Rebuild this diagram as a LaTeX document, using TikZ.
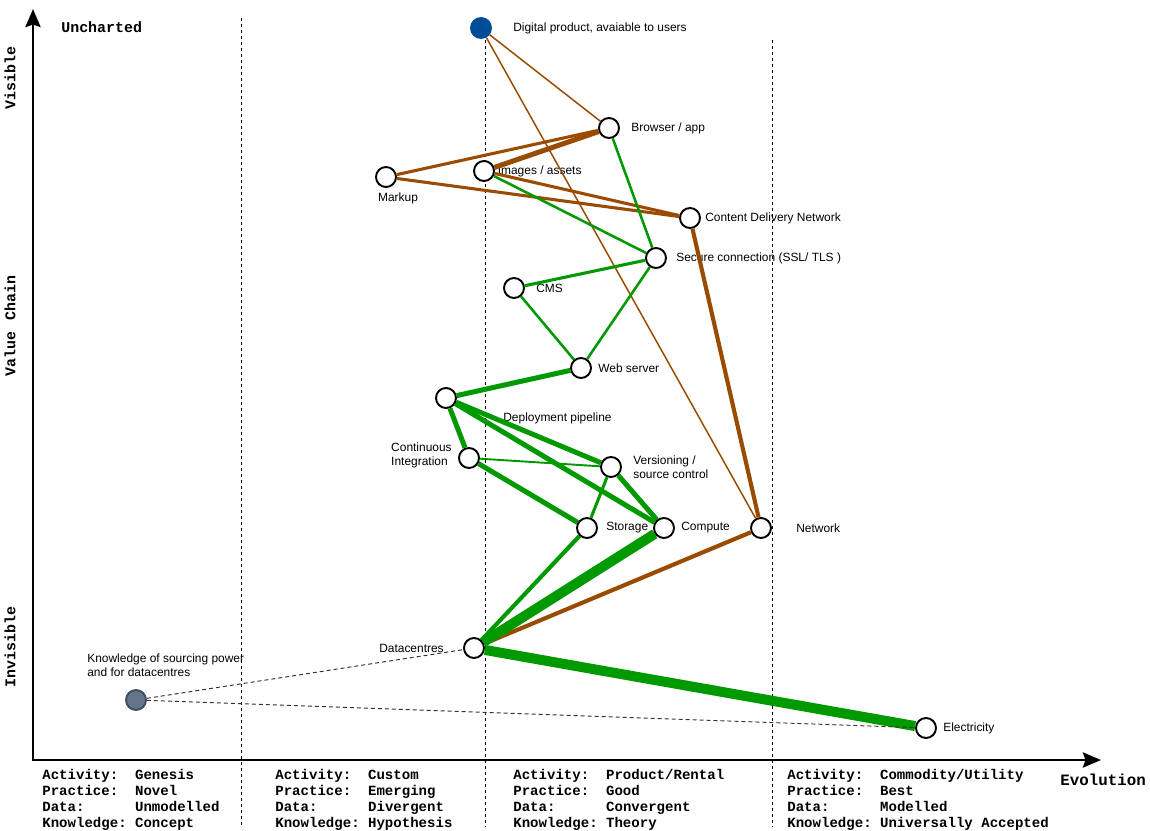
\documentclass[tikz,border=0pt]{standalone}
\usepackage{fontspec}
\setmainfont{Liberation Sans}
\setmonofont{Liberation Mono}
\usepackage{xcolor}
\usetikzlibrary{arrows.meta}
\usetikzlibrary{positioning}

\definecolor{linkbrown}{RGB}{153,76,0}
\definecolor{linkgreen}{RGB}{0,153,0}
\definecolor{userblue}{RGB}{0,76,153}
\definecolor{knowfill}{RGB}{100,117,135}
\definecolor{knowdraw}{RGB}{64,80,97}

\newcommand{\stagecol}[4]{%
  \begin{tabular}{@{}l@{\ }l@{}}
    Activity: & #1\\
    Practice: & #2\\
    Data: & #3\\
    Knowledge: & #4
  \end{tabular}}

\begin{document}
\begin{tikzpicture}[%
        x=0.02cm, y=-0.02cm,
        comp/.style={circle, draw, fill=white, line width=1.1pt, minimum size=0.4cm, inner sep=0pt},
        txt/.style={inner sep=0pt, align=left, font=\fontsize{6.8}{8}\selectfont},
        axislabel/.style={inner sep=0pt, font=\ttfamily\bfseries\fontsize{8.5}{10}\selectfont},
        stagetext/.style={inner sep=0pt, anchor=north west, font=\ttfamily\bfseries\fontsize{8}{9.07}\selectfont},
        stageline/.style={line width=0.5pt, dash pattern=on 0.06cm off 0.06cm},
        knowline/.style={black!80, line width=0.55pt, dash pattern=on 0.08cm off 0.06cm},
        axistip/.style={Stealth[length=0.36cm, width=0.3cm, inset=0.05cm]},
        lw1/.style={line width=0.85pt},
        lw2/.style={line width=1.1pt},
        lw3/.style={line width=1.45pt},
        lw4/.style={line width=1.75pt},
        lw5/.style={line width=2.35pt},
        lw6/.style={line width=2.85pt},
        lw7/.style={line width=5.7pt}
      ]
      \useasboundingbox (0,0) rectangle (1150,831);

      % stages of evolution
      \draw [stageline] (241,18) -- (241,826);
      \draw [stageline] (485,40) -- (485,826);
      \draw [stageline] (772,40) -- (772,826);

      % axes
      \draw [line width=1.7pt, {Stealth[length=0.36cm, width=0.3cm, inset=0.05cm]}-{Stealth[length=0.36cm, width=0.3cm, inset=0.05cm]}]
        (33,9) -- (33,760) -- (1101,760);
      \node [axislabel, anchor=west] (uncharted) at (61,27) {Uncharted};
      \node [axislabel, rotate=90] (visible) at (10,78) {Visible};
      \node [axislabel, rotate=90] (valuechain) at (10,326) {Value\ \,Chain};
      \node [axislabel, rotate=90] (invisible) at (10,647) {Invisible};
      \node [axislabel, anchor=west, font=\ttfamily\bfseries\fontsize{9}{10}\selectfont] (evolution) at (1060,780) {Evolution};

      \node [stagetext] (genesis) at (42,768) {\stagecol{Genesis}{Novel}{Unmodelled}{Concept}};
      \node [stagetext] (custom) at (275,768) {\stagecol{Custom}{Emerging}{Divergent}{Hypothesis}};
      \node [stagetext] (product) at (513,768) {\stagecol{Product/Rental}{Good}{Convergent}{Theory}};
      \node [stagetext] (commodity) at (787,768) {\stagecol{Commodity/Utility}{Best}{Modelled}{Universally Accepted}};

      % components
      \node [comp, fill=userblue, draw=userblue] (digital) at (481,28) {};
      \node [comp] (browser) at (609,128) {};
      \node [comp] (images) at (484,171) {};
      \node [comp] (markup) at (386,177) {};
      \node [comp] (cdn) at (690,218) {};
      \node [comp] (ssl) at (656,258) {};
      \node [comp] (cms) at (514,288) {};
      \node [comp] (web) at (581,368) {};
      \node [comp] (deploy) at (446,398) {};
      \node [comp] (ci) at (469,458) {};
      \node [comp] (vcs) at (611,467) {};
      \node [comp] (storage) at (587,528) {};
      \node [comp] (compute) at (664,528) {};
      \node [comp] (network) at (761,528) {};
      \node [comp] (dc) at (474,648) {};
      \node [comp] (elec) at (926,728) {};
      \node [comp, fill=knowfill, draw=knowdraw] (know) at (136,700) {};

      % labels
      \node [txt, right=0.42cm of digital] (digital-l) {Digital product, avaiable to users};
      \node [txt, right=0.22cm of browser] (browser-l) {Browser / app};
      \node [txt, right=0.05cm of images] (images-l) {Images / assets};
      \node [txt, below=0.1cm of markup, xshift=0.24cm] (markup-l) {Markup};
      \node [txt, right=0.08cm of cdn] (cdn-l) {Content Delivery Network};
      \node [txt, right=0.18cm of ssl, yshift=-0.01cm] (ssl-l) {Secure connection (SSL/ TLS )};
      \node [txt, right=0.22cm of cms] (cms-l) {CMS};
      \node [txt, right=0.12cm of web] (web-l) {Web server};
      \node [txt, anchor=west] (deploy-l) at (503,418) {Deployment pipeline};
      \node [txt, left=0.12cm of ci, yshift=0.06cm] (ci-l) {Continuous\\Integration};
      \node [txt, right=0.22cm of vcs] (vcs-l) {Versioning /\\source control};
      \node [txt, right=0.16cm of storage] (storage-l) {Storage};
      \node [txt, right=0.12cm of compute] (compute-l) {Compute};
      \node [txt, right=0.48cm of network] (network-l) {Network};
      \node [txt, left=0.38cm of dc] (dc-l) {Datacentres};
      \node [txt, right=0.12cm of elec] (elec-l) {Electricity};
      \node [txt, anchor=west] (know-l) at (87,665) {Knowledge of sourcing power\\and for datacentres};

      % value chain links
      \path [draw, linkbrown] (digital) edge[lw1] (browser)
      (digital) edge[lw1] (network)
      (browser) edge[lw4] (markup)
      (browser) edge[lw6] (images)
      (markup) edge[lw4] (cdn)
      (images) edge[lw4] (cdn)
      (cdn) edge[lw5] (network)
      (network) edge[lw5] (dc);
      \path [draw, linkgreen] (browser) edge[lw3] (ssl)
      (images) edge[lw3] (ssl)
      (ssl) edge[lw4] (cms)
      (ssl) edge[lw3] (web)
      (cms) edge[lw3] (web)
      (web) edge[lw6] (deploy)
      (deploy) edge[lw6] (ci)
      (deploy) edge[lw6] (vcs)
      (deploy) edge[lw6] (compute)
      (ci) edge[lw2] (vcs)
      (ci) edge[lw6] (storage)
      (vcs) edge[lw4] (storage)
      (vcs) edge[lw6] (compute)
      (storage) edge[lw5] (dc)
      (compute) edge[lw7] (dc)
      (dc) edge[lw7] (elec);
      \draw [knowline] (know) -- (dc);
      \draw [knowline] (know) -- (elec);
    \end{tikzpicture}
\end{document}
